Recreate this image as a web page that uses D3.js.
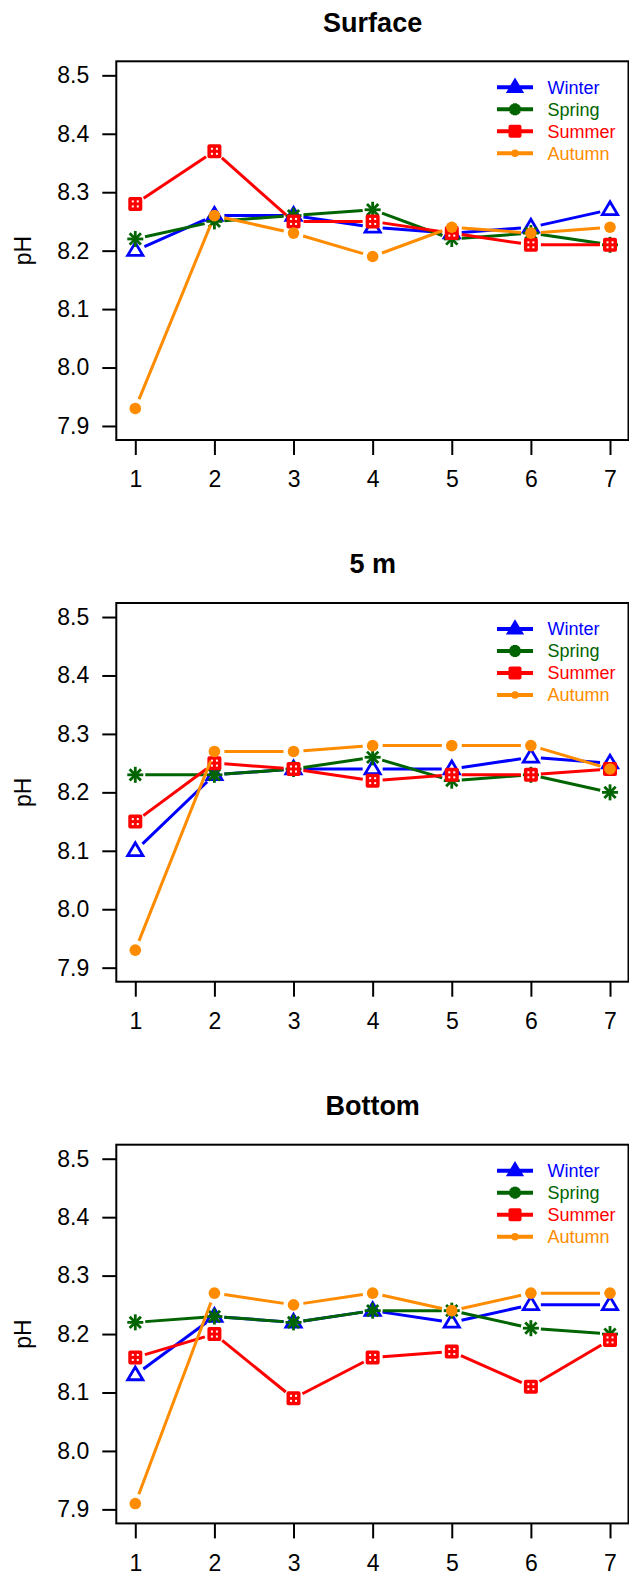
<!DOCTYPE html>
<html><head><meta charset="utf-8">
<script src="https://cdn.jsdelivr.net/npm/d3@7"></script>
<style>body{margin:0;background:#fff}svg{display:block}text{font-family:"Liberation Sans",Arial,sans-serif}</style>
</head><body>
<script>
const stations = [1,2,3,4,5,6,7];
const yTicks = [7.9,8.0,8.1,8.2,8.3,8.4,8.5];
const seasons = ["Winter","Spring","Summer","Autumn"];
const seasonColors = ["#0000FF","#006400","#FF0000","#FF8C00"];
const panelTitles = ["Surface","5 m","Bottom"];

const surfaceWinter = [8.20,8.26,8.26,8.24,8.23,8.24,8.27];
const surfaceSpring = [8.22,8.25,8.26,8.27,8.22,8.23,8.21];
const surfaceSummer = [8.28,8.37,8.25,8.25,8.23,8.21,8.21];
const surfaceAutumn = [7.93,8.26,8.23,8.19,8.24,8.23,8.24];

const m5Winter = [8.10,8.23,8.24,8.24,8.24,8.26,8.25];
const m5Spring = [8.23,8.23,8.24,8.26,8.22,8.23,8.20];
const m5Summer = [8.15,8.25,8.24,8.22,8.23,8.23,8.24];
const m5Autumn = [7.93,8.27,8.27,8.28,8.28,8.28,8.24];

const bottomWinter = [8.13,8.23,8.22,8.24,8.22,8.25,8.25];
const bottomSpring = [8.22,8.23,8.22,8.24,8.24,8.21,8.20];
const bottomSummer = [8.16,8.20,8.09,8.16,8.17,8.11,8.19];
const bottomAutumn = [7.91,8.27,8.25,8.27,8.24,8.27,8.27];

const panels = [
  [surfaceWinter,surfaceSpring,surfaceSummer,surfaceAutumn],
  [m5Winter,m5Spring,m5Summer,m5Autumn],
  [bottomWinter,bottomSpring,bottomSummer,bottomAutumn]
];

const W = 629, H = 1584;
const svg = d3.select("body").append("svg").attr("width",W).attr("height",H);
const period = 541.7;

function drawMarker(g, type, x, y, color, legend){
  if(type===0){ // triangle
    const s = legend?7:8;
    const pts = [[x,y-s],[x+s*0.95,y+s*0.6],[x-s*0.95,y+s*0.6]];
    g.append("path").attr("d","M"+pts.map(p=>p.join(",")).join("L")+"Z")
      .attr("fill",legend?color:"none").attr("stroke",color).attr("stroke-width",2.8).attr("stroke-linejoin","miter");
  } else if(type===1){ // asterisk
    const r = legend?6:8;
    for(let k=0;k<4;k++){
      const a = k*Math.PI/4;
      g.append("line").attr("x1",x-r*Math.cos(a)).attr("y1",y-r*Math.sin(a))
        .attr("x2",x+r*Math.cos(a)).attr("y2",y+r*Math.sin(a))
        .attr("stroke",color).attr("stroke-width",legend?4:2.8);
    }
    if(legend) g.append("circle").attr("cx",x).attr("cy",y).attr("r",4.5).attr("fill",color);
  } else if(type===2){ // boxed square with dots
    const s = legend?6.5:7;
    g.append("rect").attr("x",x-s).attr("y",y-s).attr("width",2*s).attr("height",2*s).attr("rx",2)
      .attr("fill",color);
    if(!legend){
      [[-2.5,-2.5],[2.5,-2.5],[-2.5,2.5],[2.5,2.5]].forEach(d=>{
        g.append("rect").attr("x",x+d[0]-1).attr("y",y+d[1]-1).attr("width",2).attr("height",2).attr("fill","#fff");
      });
    }
  } else { // circle
    g.append("circle").attr("cx",x).attr("cy",y).attr("r",legend?3.8:5.8).attr("fill",color);
  }
}

panels.forEach((series,pi)=>{
  const off = pi*period;
  const left = 116.3, right = 628.5, top = 61.3+off, bottom = 440+off;
  const x = d3.scaleLinear().domain([0.76,7.24]).range([left,629]);
  const y = d3.scaleLinear().domain([7.876,8.524]).range([bottom,top]);
  const g = svg.append("g");

  // title
  g.append("text").attr("x",(left+629)/2).attr("y",31.5+off).attr("text-anchor","middle")
    .attr("font-size",27).attr("font-weight","bold").text(panelTitles[pi]);

  // axes
  const ya = g.append("g").attr("transform",`translate(${left},0)`)
    .call(d3.axisLeft(y).tickValues(yTicks).tickFormat(d3.format(".1f")).tickSize(14).tickPadding(13));
  ya.select(".domain").remove();
  const xa = g.append("g").attr("transform",`translate(0,${bottom})`)
    .call(d3.axisBottom(x).tickValues(stations).tickFormat(d3.format("d")).tickSize(15).tickPadding(16));
  xa.select(".domain").remove();
  [ya,xa].forEach(a=>{
    a.selectAll("text").attr("font-size",23).attr("fill","#000").attr("font-family","'Liberation Sans',Arial,sans-serif");
    a.selectAll("line").attr("stroke","#000").attr("stroke-width",2);
  });
  xa.selectAll("text").attr("dy","0.71em");

  // box
  g.append("rect").attr("x",left).attr("y",top).attr("width",right-left).attr("height",bottom-top)
    .attr("fill","none").attr("stroke","#000").attr("stroke-width",2);

  // ylabel
  g.append("text").attr("transform",`translate(31,${(top+bottom)/2}) rotate(-90)`)
    .attr("text-anchor","middle").attr("font-size",23).text("pH");

  // series
  series.forEach((vals,si)=>{
    const color = seasonColors[si];
    const pts = vals.map((v,i)=>[x(stations[i]),y(v)]);
    const gap = 10;
    for(let i=0;i<pts.length-1;i++){
      const [x1,y1]=pts[i],[x2,y2]=pts[i+1];
      const dx=x2-x1, dy=y2-y1, L=Math.hypot(dx,dy);
      if(L<=2*gap) continue;
      const ux=dx/L, uy=dy/L;
      g.append("line").attr("x1",x1+ux*gap).attr("y1",y1+uy*gap)
        .attr("x2",x2-ux*gap).attr("y2",y2-uy*gap)
        .attr("stroke",color).attr("stroke-width",3);
    }
    pts.forEach(p=>drawMarker(g,si,p[0],p[1],color,false));
  });

  // legend
  seasons.forEach((s,si)=>{
    const ly = 87.3+off+si*22;
    const color = seasonColors[si];
    g.append("line").attr("x1",497).attr("x2",533).attr("y1",ly).attr("y2",ly)
      .attr("stroke",color).attr("stroke-width",4);
    drawMarker(g,si,515,ly,color,true);
    g.append("text").attr("x",547.5).attr("y",ly).attr("dy","0.36em")
      .attr("font-size",18).attr("fill",color).text(s);
  });
});
</script>
</body></html>
